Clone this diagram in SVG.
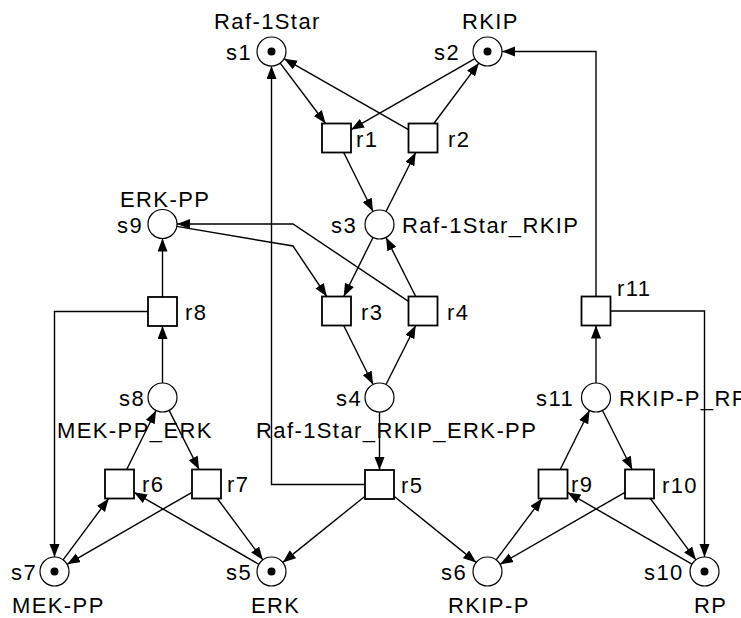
<svg xmlns="http://www.w3.org/2000/svg" width="741" height="618" viewBox="0 0 741 618">
<style>
.pl{fill:#fff;stroke:#000;stroke-width:1.2}
.tr{fill:#fff;stroke:#000;stroke-width:1.8}
.tok{fill:#000}
.t{font-family:"Liberation Sans",Arial,sans-serif;font-size:22px;letter-spacing:1.4px;fill:#000}
#arcs line,#arcs polyline{fill:none;stroke:#000;stroke-width:1.4;marker-end:url(#ah)}
</style>
<defs>
<marker id="ah" markerUnits="userSpaceOnUse" markerWidth="14" markerHeight="11" refX="13" refY="5" orient="auto">
<path d="M0,0 L13,5 L0,10 z" fill="#000"/>
</marker>
</defs>
<rect width="741" height="618" fill="#fff"/>
<g id="arcs">
<line x1="280.2" y1="63.1" x2="325.6" y2="123.5"/>
<line x1="474.9" y1="58.7" x2="351" y2="129.7"/>
<line x1="408.5" y1="129.7" x2="284.1" y2="58.7"/>
<line x1="433.8" y1="123.5" x2="478.8" y2="63.1"/>
<line x1="343.7" y1="152.5" x2="373" y2="211.5"/>
<line x1="386" y1="211.5" x2="415.7" y2="152.5"/>
<line x1="373" y1="237.5" x2="343.7" y2="296.5"/>
<line x1="415.7" y1="296.5" x2="386" y2="237.5"/>
<line x1="343.7" y1="325.5" x2="373" y2="384.5"/>
<line x1="386" y1="384.5" x2="415.7" y2="325.5"/>
<polyline points="176.8,226.4 293,246 326.8,296.5"/>
<polyline points="408.5,301.3 293,224 177,224"/>
<line x1="379.5" y1="412" x2="379.5" y2="470"/>
<polyline points="365,484.5 271.5,484.5 271.5,66"/>
<line x1="365" y1="496.2" x2="282.8" y2="562.4"/>
<line x1="394" y1="496.2" x2="476.2" y2="562.4"/>
<line x1="162.5" y1="297" x2="162.5" y2="238.5"/>
<line x1="162.5" y1="383" x2="162.5" y2="326"/>
<polyline points="148,311.5 54.5,311.5 54.5,557"/>
<line x1="126.7" y1="469.5" x2="156" y2="410.5"/>
<line x1="169.1" y1="410.4" x2="199.1" y2="469.5"/>
<line x1="63.1" y1="559.9" x2="108.7" y2="498.5"/>
<line x1="192" y1="492.3" x2="67.1" y2="564.3"/>
<line x1="258.9" y1="564.3" x2="134" y2="492.3"/>
<line x1="217.3" y1="498.5" x2="262.9" y2="559.9"/>
<line x1="560.2" y1="469.5" x2="589.5" y2="410.5"/>
<line x1="602.5" y1="410.5" x2="632.2" y2="469.5"/>
<line x1="496.2" y1="559.9" x2="542.1" y2="498.5"/>
<line x1="625" y1="492.3" x2="500.1" y2="564.3"/>
<line x1="691.9" y1="564.2" x2="567.5" y2="492.4"/>
<line x1="650.3" y1="498.5" x2="695.9" y2="559.9"/>
<line x1="596" y1="383" x2="596" y2="325.5"/>
<polyline points="596,296.5 596,51.5 502,51.5"/>
<polyline points="610.5,311 704.5,311 704.5,557"/>
</g>
<g id="s1"><circle class="pl" cx="271.5" cy="51.5" r="14.5"/><circle class="tok" cx="271.5" cy="51.5" r="4"/><text class="t" x="226" y="60">s1</text><text class="t" x="214" y="29">Raf-1Star</text></g>
<g id="s2"><circle class="pl" cx="487.5" cy="51.5" r="14.5"/><circle class="tok" cx="487.5" cy="51.5" r="4"/><text class="t" x="434" y="60">s2</text><text class="t" x="462" y="29">RKIP</text></g>
<g id="s3"><circle class="pl" cx="379.5" cy="224.5" r="14.5"/><text class="t" x="331" y="233">s3</text><text class="t" x="402" y="233">Raf-1Star_RKIP</text></g>
<g id="s4"><circle class="pl" cx="379.5" cy="397.5" r="14.5"/><text class="t" x="336" y="406">s4</text><text class="t" x="256" y="438">Raf-1Star_RKIP_ERK-PP</text></g>
<g id="s5"><circle class="pl" cx="271.5" cy="571.5" r="14.5"/><circle class="tok" cx="271.5" cy="571.5" r="4"/><text class="t" x="226" y="580">s5</text><text class="t" x="251" y="613">ERK</text></g>
<g id="s6"><circle class="pl" cx="487.5" cy="571.5" r="14.5"/><text class="t" x="441" y="580">s6</text><text class="t" x="448" y="613">RKIP-P</text></g>
<g id="s7"><circle class="pl" cx="54.5" cy="571.5" r="14.5"/><circle class="tok" cx="54.5" cy="571.5" r="4"/><text class="t" x="11" y="580">s7</text><text class="t" x="12" y="613">MEK-PP</text></g>
<g id="s8"><circle class="pl" cx="162.5" cy="397.5" r="14.5"/><text class="t" x="119" y="406">s8</text><text class="t" x="57" y="438">MEK-PP_ERK</text></g>
<g id="s9"><circle class="pl" cx="162.5" cy="224" r="14.5"/><text class="t" x="117" y="233">s9</text><text class="t" x="120" y="207">ERK-PP</text></g>
<g id="s10"><circle class="pl" cx="704.5" cy="571.5" r="14.5"/><circle class="tok" cx="704.5" cy="571.5" r="4"/><text class="t" x="644" y="580">s10</text><text class="t" x="694" y="613">RP</text></g>
<g id="s11"><circle class="pl" cx="596" cy="397.5" r="14.5"/><text class="t" x="536" y="406">s11</text><text class="t" x="619" y="406">RKIP-P_RP</text></g>
<g id="r1"><rect class="tr" x="322" y="123.5" width="29" height="29"/><text class="t" x="356" y="147">r1</text></g>
<g id="r2"><rect class="tr" x="408.5" y="123.5" width="29" height="29"/><text class="t" x="448" y="147">r2</text></g>
<g id="r3"><rect class="tr" x="322" y="296.5" width="29" height="29"/><text class="t" x="361" y="320">r3</text></g>
<g id="r4"><rect class="tr" x="408.5" y="296.5" width="29" height="29"/><text class="t" x="447" y="320">r4</text></g>
<g id="r5"><rect class="tr" x="365" y="470" width="29" height="29"/><text class="t" x="401" y="493">r5</text></g>
<g id="r6"><rect class="tr" x="105" y="469.5" width="29" height="29"/><text class="t" x="142" y="492">r6</text></g>
<g id="r7"><rect class="tr" x="192" y="469.5" width="29" height="29"/><text class="t" x="227" y="492">r7</text></g>
<g id="r8"><rect class="tr" x="148" y="297" width="29" height="29"/><text class="t" x="185" y="320">r8</text></g>
<g id="r9"><rect class="tr" x="538.5" y="469.5" width="29" height="29"/><text class="t" x="571" y="492">r9</text></g>
<g id="r10"><rect class="tr" x="625" y="469.5" width="29" height="29"/><text class="t" x="662" y="493">r10</text></g>
<g id="r11"><rect class="tr" x="581.5" y="296.5" width="29" height="29"/><text class="t" x="617" y="296">r11</text></g>
</svg>
